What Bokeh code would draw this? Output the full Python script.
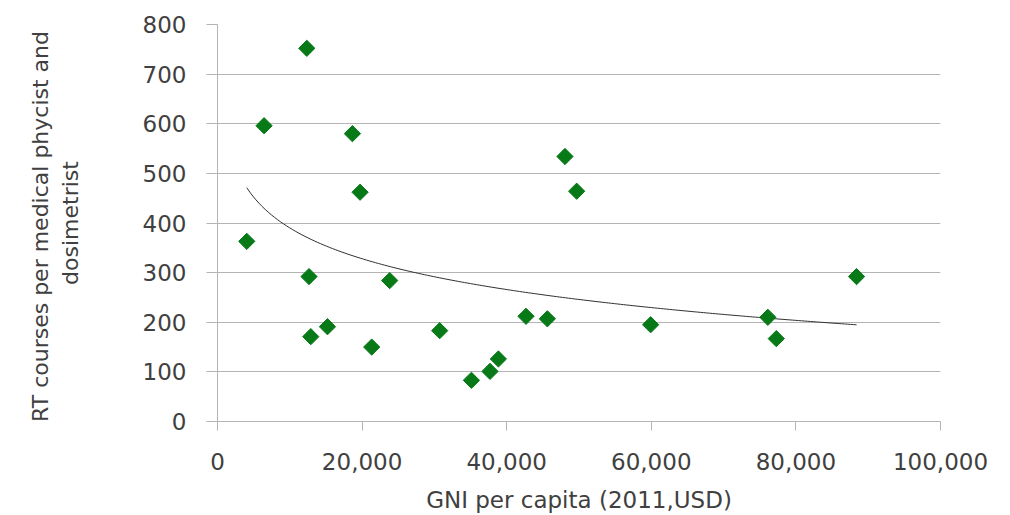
import numpy as np
from bokeh.plotting import figure
from bokeh.models import NumeralTickFormatter, FixedTicker, Range1d, ColumnDataSource
from bokeh.embed import file_html
from bokeh.resources import INLINE

# GNI per capita (2011, USD)
gni = [4050, 6440, 12350, 12660, 12900, 15210, 18660, 19720, 21330, 23820, 30730,
       35120, 37690, 38850, 42670, 45620, 48060, 49680, 59910, 76120, 77290, 88390]
# RT courses per medical physicist and dosimetrist
courses = [363, 596, 752, 292, 171, 191, 580, 462, 150, 284, 183,
           83, 101, 126, 212, 207, 534, 464, 195, 210, 167, 292]

x_ticks = [0, 20000, 40000, 60000, 80000, 100000]
y_ticks = [0, 100, 200, 300, 400, 500, 600, 700, 800]

# logarithmic trendline fitted from the data (y = a + b ln x)
lx = np.log(np.array(gni, dtype=float))
yy = np.array(courses, dtype=float)
b, a = np.polyfit(lx, yy, 1)
tx = np.linspace(min(gni), max(gni), 200)
ty = a + b * np.log(tx)

FONT = "DejaVu Sans"
TXT = "#404040"
GRID = "#b4b4b4"

p = figure(width=1010, height=515, output_backend="svg", toolbar_location=None,
           x_range=Range1d(0, 100000), y_range=Range1d(0, 800),
           min_border_left=217, min_border_right=70, min_border_top=24,
           min_border_bottom=94)
p.outline_line_color = None
p.background_fill_color = "white"

p.line(tx, ty, line_color="#303030", line_width=1)
src = ColumnDataSource(dict(x=gni, y=courses))
p.scatter("x", "y", source=src, marker="square", size=11.5, angle=np.pi / 4,
          fill_color="#077a17", line_color="#077a17")

p.xgrid.grid_line_color = None
p.ygrid.grid_line_color = GRID
p.ygrid.grid_line_width = 1

xa = p.xaxis[0]
xa.ticker = FixedTicker(ticks=x_ticks)
xa.formatter = NumeralTickFormatter(format="0,0")
xa.axis_label = "GNI per capita (2011,USD)"
xa.axis_label_standoff = 14
xa.major_label_standoff = 22
xa.major_tick_out = 9
xa.major_tick_in = 0
xa.minor_tick_out = 0
xa.minor_tick_in = 0
xa.axis_label_text_font_size = "23px"

ya = p.yaxis[0]
ya.ticker = FixedTicker(ticks=y_ticks)
ya.axis_label = "RT courses per medical  phycist and\ndosimetrist"
ya.axis_label_standoff = 57
ya.major_label_standoff = 20
ya.major_tick_out = 11
ya.major_tick_in = 0
ya.minor_tick_out = 0
ya.minor_tick_in = 0
ya.axis_label_text_font_size = "22px"

for ax in (xa, ya):
    ax.axis_line_color = GRID
    ax.major_tick_line_color = GRID
    ax.major_label_text_font = FONT
    ax.major_label_text_font_size = "23px"
    ax.major_label_text_color = TXT
    ax.axis_label_text_font = FONT
    ax.axis_label_text_font_style = "normal"
    ax.axis_label_text_color = TXT

open("out.html", "w").write(file_html(p, INLINE))
